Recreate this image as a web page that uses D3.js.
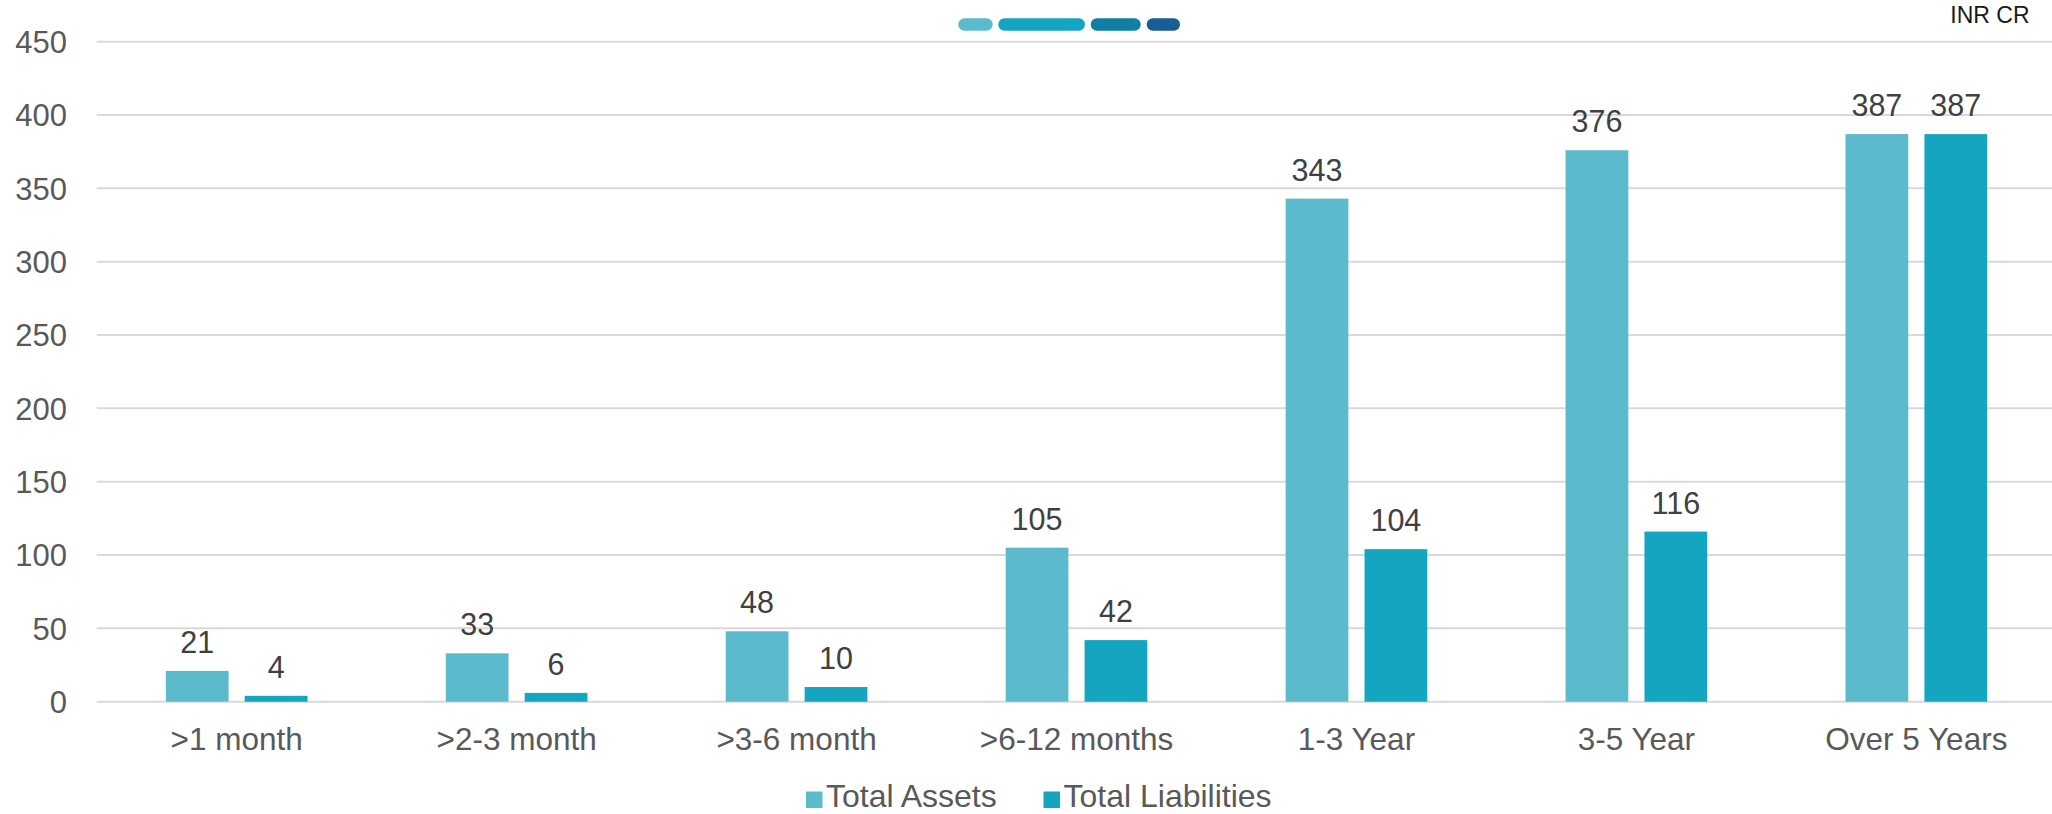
<!DOCTYPE html>
<html>
<head>
<meta charset="utf-8">
<script src="https://cdn.jsdelivr.net/npm/d3@7"></script>
<style>
  html, body { margin: 0; padding: 0; background: #ffffff; }
  svg { display: block; }
  text { font-family: "Liberation Sans", Arial, sans-serif; }
</style>
</head>
<body>
<svg id="chart" width="2052" height="814"></svg>
<script>
// Maturity buckets and balances (INR crore)
const categories = [">1 month", ">2-3 month", ">3-6 month", ">6-12 months", "1-3 Year", "3-5 Year", "Over 5 Years"];
const seriesNames = ["Total Assets", "Total Liabilities"];
const totalAssets = [21, 33, 48, 105, 343, 376, 387];
const totalLiabilities = [4, 6, 10, 42, 104, 116, 387];
const yTicks = [0, 50, 100, 150, 200, 250, 300, 350, 400, 450];
const unitLabel = "INR CR";

const seriesValues = [totalAssets, totalLiabilities];
const colors = ["#5BBBCD", "#14A5C0"];

const svg = d3.select("#chart");
const W = 2052;
const plotLeft = 96.7, plotRight = 2056.3, plotTop = 41.7, plotBottom = 701.7;

const x0 = d3.scaleBand()
  .domain(categories)
  .range([plotLeft, plotRight])
  .paddingInner(0.494)
  .paddingOuter(0.247);

const x1 = d3.scaleBand()
  .domain(seriesNames)
  .range([0, x0.bandwidth()])
  .paddingInner(0.205);

const y = d3.scaleLinear().domain([0, 450]).range([plotBottom, plotTop]);

// Horizontal gridlines
svg.append("g")
  .selectAll("line")
  .data(yTicks)
  .join("line")
  .attr("x1", plotLeft)
  .attr("x2", W)
  .attr("y1", d => y(d))
  .attr("y2", d => y(d))
  .attr("stroke", "#D9D9D9")
  .attr("stroke-width", 2);

// Y axis labels
const yAxis = d3.axisLeft(y).tickValues(yTicks).tickSize(0).tickPadding(0);
svg.append("g")
  .attr("transform", "translate(67,0)")
  .call(yAxis)
  .call(g => g.select(".domain").remove())
  .call(g => g.selectAll("text")
    .attr("font-family", "'Liberation Sans', Arial, sans-serif")
    .attr("font-size", 31)
    .attr("fill", "#595959")
    .attr("dy", "0.35em"));

// Bars
const rows = categories.map((c, i) => ({
  cat: c,
  vals: seriesNames.map((s, j) => ({ series: s, value: seriesValues[j][i], color: colors[j] }))
}));

const groups = svg.append("g")
  .selectAll("g")
  .data(rows)
  .join("g")
  .attr("transform", d => `translate(${x0(d.cat)},0)`);

groups.selectAll("rect")
  .data(d => d.vals)
  .join("rect")
  .attr("x", d => x1(d.series))
  .attr("width", x1.bandwidth())
  .attr("y", d => y(d.value))
  .attr("height", d => y(0) - y(d.value))
  .attr("fill", d => d.color);

// Value labels above bars
groups.selectAll("text.value")
  .data(d => d.vals)
  .join("text")
  .attr("class", "value")
  .attr("x", d => x1(d.series) + x1.bandwidth() / 2)
  .attr("y", d => y(d.value) - 18)
  .attr("text-anchor", "middle")
  .attr("font-size", 30.5)
  .attr("fill", "#404040")
  .text(d => d.value);

// Category labels
const xAxis = d3.axisBottom(x0).tickSize(0).tickPadding(0);
svg.append("g")
  .attr("transform", `translate(0,${plotBottom})`)
  .call(xAxis)
  .call(g => g.select(".domain").remove())
  .call(g => g.selectAll("text")
    .attr("font-family", "'Liberation Sans', Arial, sans-serif")
    .attr("font-size", 31.5)
    .attr("fill", "#595959")
    .attr("dy", null)
    .attr("y", 48.3));

// Legend
const legendItems = [
  { name: seriesNames[0], color: colors[0], x: 806 },
  { name: seriesNames[1], color: colors[1], x: 1043.5 }
];
const legend = svg.append("g");
legend.selectAll("rect")
  .data(legendItems)
  .join("rect")
  .attr("x", d => d.x)
  .attr("y", 791.5)
  .attr("width", 16.5)
  .attr("height", 16.5)
  .attr("fill", d => d.color);
legend.selectAll("text")
  .data(legendItems)
  .join("text")
  .attr("x", d => d.x + 20)
  .attr("y", 807.3)
  .attr("font-size", 32)
  .attr("fill", "#595959")
  .text(d => d.name);

// Decorative colour strip at the top
const strip = [
  { x: 958.3, w: 34.4, c: "#5BBBCD" },
  { x: 998.3, w: 86.7, c: "#14A5C0" },
  { x: 1090.7, w: 50, c: "#117FA3" },
  { x: 1146.7, w: 33.3, c: "#195D95" }
];
svg.append("g")
  .selectAll("rect")
  .data(strip)
  .join("rect")
  .attr("x", d => d.x)
  .attr("y", 18.3)
  .attr("width", d => d.w)
  .attr("height", 12.4)
  .attr("rx", 6.2)
  .attr("fill", d => d.c);

// Unit label
svg.append("text")
  .attr("x", 2029.5)
  .attr("y", 23)
  .attr("text-anchor", "end")
  .attr("font-family", "'DejaVu Sans', Verdana, sans-serif")
  .attr("font-size", 23)
  .attr("fill", "#1a1a1a")
  .text(unitLabel);
</script>
</body>
</html>
